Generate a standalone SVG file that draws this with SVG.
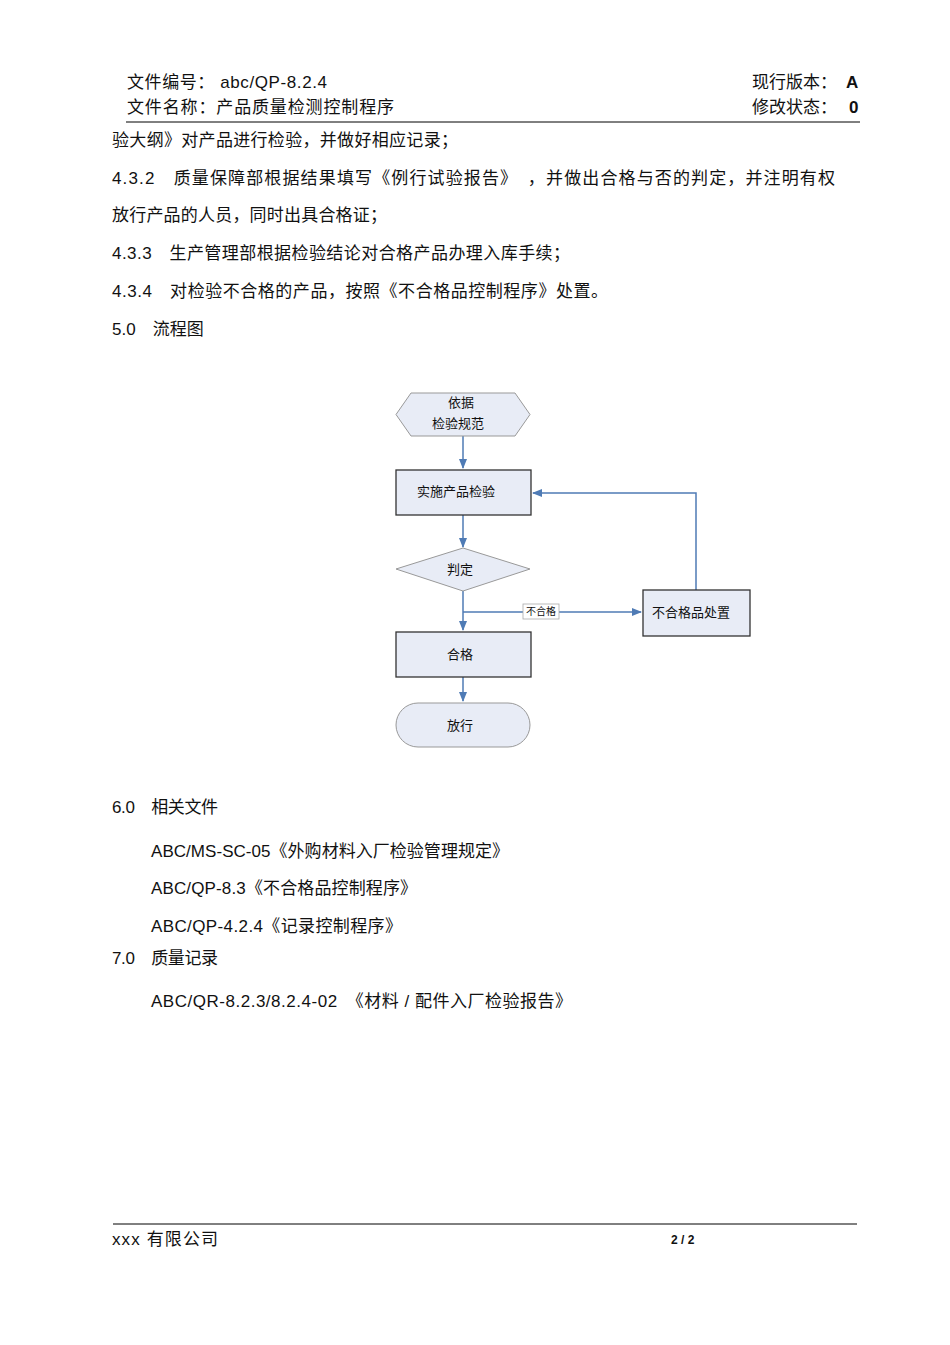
<svg xmlns="http://www.w3.org/2000/svg" width="950" height="1345" viewBox="0 0 950 1345">
<style>
text{font-family:"Liberation Sans","Noto Sans CJK SC",sans-serif;fill:#111}
.b{font-size:17px}
.n{font-size:13px}
.s{fill:#e8ecf6;stroke:#333;stroke-width:1.3}
.t{fill:#e8ecf6;stroke:#999;stroke-width:1}
.c{stroke:#4f7bb5;stroke-width:1.5;fill:none;marker-end:url(#a)}
</style>
<defs><marker id="a" markerWidth="10" markerHeight="8" refX="9" refY="4" orient="auto" markerUnits="userSpaceOnUse"><path d="M0,0L10,4L0,8z" fill="#4f7bb5"/></marker></defs>
<rect width="950" height="1345" fill="#fff"/>
<text class="b" x="127" y="88" textLength="200" lengthAdjust="spacing">文件编号： abc/QP-8.2.4</text>
<text class="b" x="127" y="113" textLength="267" lengthAdjust="spacing">文件名称：产品质量检测控制程序</text>
<text class="b" x="752" y="88">现行版本：</text><text class="b" x="846" y="88" font-weight="bold">A</text>
<text class="b" x="752" y="113">修改状态：</text><text class="b" x="849" y="113" font-weight="bold">0</text>
<line x1="126" y1="122" x2="860" y2="122" stroke="#000"/>
<text class="b" x="112" y="146" textLength="346" lengthAdjust="spacing">验大纲》对产品进行检验，并做好相应记录；</text>
<text class="b" x="112" y="184" textLength="723" lengthAdjust="spacing">4.3.2　质量保障部根据结果填写《例行试验报告》　，并做出合格与否的判定，并注明有权</text>
<text class="b" x="112" y="221" textLength="275" lengthAdjust="spacing">放行产品的人员，同时出具合格证；</text>
<text class="b" x="112" y="259" textLength="458" lengthAdjust="spacing">4.3.3　生产管理部根据检验结论对合格产品办理入库手续；</text>
<text class="b" x="112" y="297" textLength="496" lengthAdjust="spacing">4.3.4　对检验不合格的产品，按照《不合格品控制程序》处置。</text>
<text class="b" x="112" y="335">5.0　流程图</text>
<g id="connectors">
<path class="c" d="M463,436V468"/>
<path class="c" d="M463,515V547"/>
<path class="c" d="M463,591V630"/>
<path class="c" d="M463,612H641"/>
<path class="c" d="M696,590V493H533"/>
<path class="c" d="M463,677V701"/>
<rect x="523" y="604" width="36" height="15" fill="#fff" stroke="#aaa" stroke-width="0.8"/>
<text x="541" y="615" font-size="10" text-anchor="middle">不合格</text>
</g>
<g id="n1"><path class="t" d="M411,393H515L530,414.5L515,436H411L396,414.5Z"/><text class="n" x="461" y="407" text-anchor="middle">依据</text><text class="n" x="458" y="428" text-anchor="middle">检验规范</text></g>
<g id="n2"><rect class="s" x="396" y="470" width="135" height="45"/><text class="n" x="456" y="496" text-anchor="middle">实施产品检验</text></g>
<g id="n3"><path class="t" d="M463,548L530,569L463,591L396,569Z"/><text class="n" x="460" y="574" text-anchor="middle">判定</text></g>
<g id="n4"><rect class="s" x="643" y="590" width="107" height="46"/><text class="n" x="691" y="617" text-anchor="middle">不合格品处置</text></g>
<g id="n5"><rect class="s" x="396" y="632" width="135" height="45"/><text class="n" x="460" y="659" text-anchor="middle">合格</text></g>
<g id="n6"><rect class="t" x="396" y="703" width="134" height="44" rx="22"/><text class="n" x="460" y="730" text-anchor="middle">放行</text></g>
<text class="b" x="112" y="813" textLength="106" lengthAdjust="spacing">6.0　相关文件</text>
<text class="b" x="151" y="857" textLength="358" lengthAdjust="spacing">ABC/MS-SC-05《外购材料入厂检验管理规定》</text>
<text class="b" x="151" y="894" textLength="266" lengthAdjust="spacing">ABC/QP-8.3《不合格品控制程序》</text>
<text class="b" x="151" y="932" textLength="251" lengthAdjust="spacing">ABC/QP-4.2.4《记录控制程序》</text>
<text class="b" x="112" y="964" textLength="106" lengthAdjust="spacing">7.0　质量记录</text>
<text class="b" x="151" y="1007" textLength="421" lengthAdjust="spacing">ABC/QR-8.2.3/8.2.4-02　《材料 / 配件入厂检验报告》</text>
<line x1="113" y1="1224" x2="857" y2="1224" stroke="#000"/>
<text class="b" x="112" y="1245" textLength="106" lengthAdjust="spacing">xxx 有限公司</text>
<text x="671" y="1244" font-size="12" font-weight="bold">2 / 2</text>
</svg>
